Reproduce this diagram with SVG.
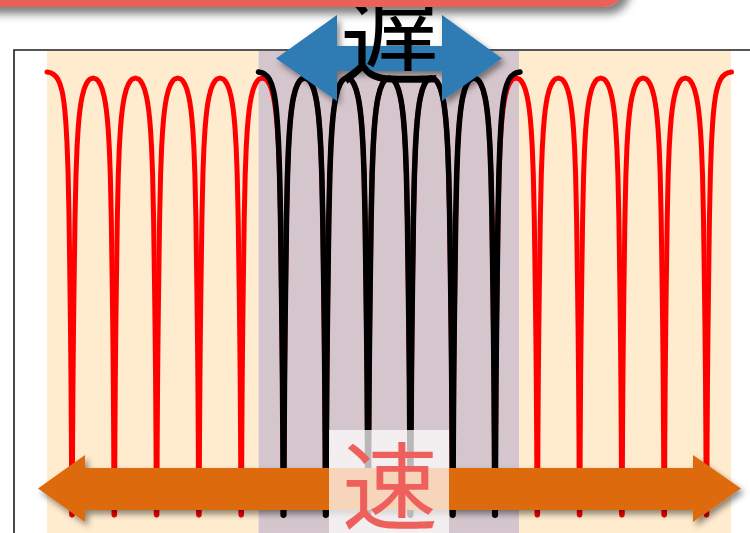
<svg xmlns="http://www.w3.org/2000/svg" xmlns:xlink="http://www.w3.org/1999/xlink" width="750" height="533" viewBox="0 0 750 533">
  <style>
    .wave { fill: none; stroke-linejoin: round; stroke-linecap: round; }
    .red { stroke: #FF0000; stroke-width: 5; }
    .blk { stroke: #000000; stroke-width: 5.5; }
    .cjk { font-family: "Noto Sans CJK JP", "Noto Sans CJK SC", sans-serif; text-anchor: middle; }
  </style>
  <defs>
    <path id="arch" d="M0.3,515 L0.6,440 L1,380 L1.5,330 L2,290 L2.5,254.7 L3,219 L4,174.6 L5,148.2 L6,130.8 L7,118.5 L8,109.5 L9,102.6 L10,97.2 L12,89.4 L14,84.4 L16,81.1 L18,79.1 L21.15,78 L24.3,79.1 L26.3,81.1 L28.3,84.4 L30.3,89.4 L32.3,97.2 L33.3,102.6 L34.3,109.5 L35.3,118.5 L36.3,130.8 L37.3,148.2 L38.3,174.6 L39.3,219 L39.8,254.7 L40.3,290 L40.8,330 L41.3,380 L41.7,440 L42,515"/>
    <path id="startPiece" d="M-25,72 L-22,72.6 L-19,74 L-16,76.5 L-14,79.5 L-12,84 L-10,91 L-9,96 L-8,103 L-7,112 L-6,125 L-5,143 L-4,170 L-3,215 L-2.5,250 L-2,290 L-1.5,330 L-1,380 L-0.6,440 L-0.3,515"/>
    <path id="endPiece" d="M0.3,515 L0.6,440 L1,380 L1.5,330 L2,290 L2.5,250 L3,215 L4,170 L5,143 L6,125 L7,112 L8,103 L9,96 L10,91 L12,84 L14,79.5 L16,76.5 L19,74 L22,72.6 L25,72"/>
    <filter id="shadow" x="-10%" y="-40%" width="120%" height="190%">
      <feDropShadow dx="3" dy="4" stdDeviation="3" flood-color="#000" flood-opacity="0.45"/>
    </filter>
    <filter id="barShadow" x="-10%" y="-50%" width="130%" height="250%">
      <feDropShadow dx="5" dy="7" stdDeviation="4" flood-color="#000" flood-opacity="0.5"/>
    </filter>
  </defs>

  <rect x="0" y="0" width="750" height="533" fill="#FFFFFF"/>

  <g id="bands">
    <rect x="47" y="51" width="211.5" height="482" fill="#FFEBCD"/>
    <rect x="258.5" y="51" width="260.5" height="482" fill="#D5C5CD"/>
    <rect x="519" y="51" width="212" height="482" fill="#FFEBCD"/>
  </g>

  <g id="frame">
    <path d="M750,50 H14 V533" fill="none" stroke="#1E1E1E" stroke-width="1.6"/>
  </g>

  <g id="wave-red" class="wave red">
    <use xlink:href="#startPiece" transform="translate(72,0)"/>
    <use xlink:href="#arch" transform="translate(72,0)"/>
    <use xlink:href="#arch" transform="translate(114.3,0)"/>
    <use xlink:href="#arch" transform="translate(156.6,0)"/>
    <use xlink:href="#arch" transform="translate(198.9,0)"/>
    <use xlink:href="#arch" transform="translate(241.2,0)"/>
    <use xlink:href="#arch" transform="translate(283.5,0)"/>
    <use xlink:href="#arch" transform="translate(325.8,0)"/>
    <use xlink:href="#arch" transform="translate(368.1,0)"/>
    <use xlink:href="#arch" transform="translate(410.4,0)"/>
    <use xlink:href="#arch" transform="translate(452.7,0)"/>
    <use xlink:href="#arch" transform="translate(495,0)"/>
    <use xlink:href="#arch" transform="translate(537.3,0)"/>
    <use xlink:href="#arch" transform="translate(579.6,0)"/>
    <use xlink:href="#arch" transform="translate(621.9,0)"/>
    <use xlink:href="#arch" transform="translate(664.2,0)"/>
    <use xlink:href="#endPiece" transform="translate(706.5,0)"/>
  </g>

  <g id="wave-black" class="wave blk">
    <use xlink:href="#startPiece" transform="translate(283.5,0)"/>
    <use xlink:href="#arch" transform="translate(283.5,0)"/>
    <use xlink:href="#arch" transform="translate(325.8,0)"/>
    <use xlink:href="#arch" transform="translate(368.1,0)"/>
    <use xlink:href="#arch" transform="translate(410.4,0)"/>
    <use xlink:href="#arch" transform="translate(452.7,0)"/>
    <use xlink:href="#endPiece" transform="translate(495,0)"/>
  </g>

  <g id="arrow-slow">
    <polygon points="276,58.5 337,15 337,46 442,46 442,15 502,58.5 442,101 442,71 337,71 337,101" fill="#2E7CB3" filter="url(#shadow)"/>
  </g>

  <g id="label-slow">
    <text class="cjk" x="390" y="76" font-size="100" fill="#000000">遅</text>
  </g>

  <g id="top-bar">
    <rect x="-30" y="-40" width="655" height="47" rx="22" ry="22" fill="#EC605C" filter="url(#barShadow)"/>
  </g>

  <g id="arrow-fast">
    <polygon points="38,488.5 85,455 85,468 693,468 693,455 741,488.5 693,522 693,510 85,510 85,522" fill="#DD6A10" filter="url(#shadow)"/>
  </g>

  <g id="label-fast">
    <rect x="329" y="430" width="120" height="103" fill="#FFFFFF" fill-opacity="0.72"/>
    <text class="cjk" x="390" y="522" font-size="96" fill="#EE605B">速</text>
  </g>
</svg>
